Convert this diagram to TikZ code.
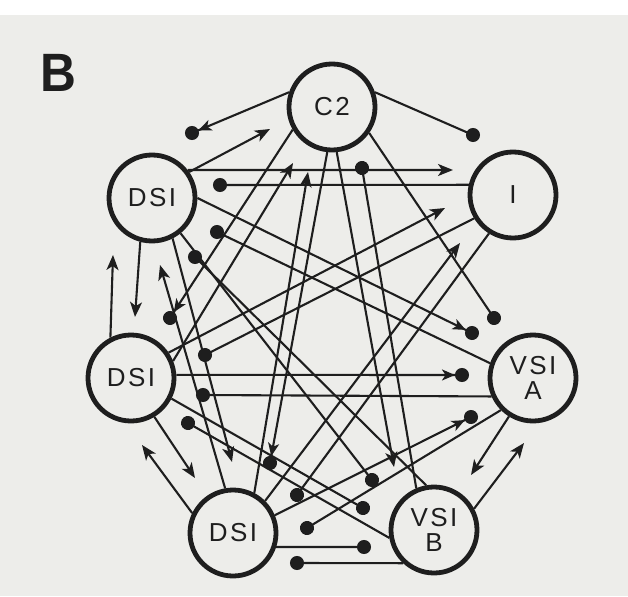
\documentclass[tikz,border=0pt]{standalone}
\usepackage{fontspec}
\setmainfont{Liberation Sans}
\newfontfamily\cellfont[LetterSpace=9]{Liberation Sans}
\usetikzlibrary{arrows.meta}

\definecolor{paper}{RGB}{237,237,234}
\definecolor{ink}{RGB}{30,30,30}

\tikzset{
  cell/.style={circle, draw=ink, line width=4.8pt, minimum size=86pt, inner sep=0pt,
               align=center, text=ink, font=\cellfont\fontsize{26}{25}\selectfont},
  link/.style={draw=ink, line width=2.1pt},
  exc/.style={link, -{Stealth[length=15pt,width=12pt,inset=4pt]}},
  inh/.style={link, shorten >=-7pt, -{Circle[length=14pt]}},
  mix/.style={link, shorten >=-7pt, -{Stealth[length=13pt,width=11pt,inset=3.5pt]Circle[length=14pt]}},
}

\begin{document}
\begin{tikzpicture}[x=1pt, y=-1pt]
  % page
  \useasboundingbox (0,0) rectangle (628,596);
  \fill[white] (0,0) rectangle (628,596);
  \fill[paper] (0,15) rectangle (628,596);

  % panel letter
  \node[text=ink, font=\fontsize{54}{54}\selectfont\bfseries, xscale=0.92] (panel) at (58,73) {B};

  % cells
  \node[cell] (c2) at (332,107) {C2};
  \node[cell] (d1) at (152,198) {DSI};
  \node[cell] (in) at (513,195) {I};
  \node[cell] (d2) at (131,378) {DSI};
  \node[cell] (va) at (533,378) {VSI\\A};
  \node[cell] (d3) at (233,533) {DSI};
  \node[cell] (vb) at (434,530) {VSI\\B};

  % synaptic endings
  \coordinate (k1) at (192,133);
  \coordinate (k2) at (473,135);
  \coordinate (k3) at (494,318);
  \coordinate (k4) at (170,318);
  \coordinate (k5) at (270,463);
  \coordinate (k6) at (394,467);
  \coordinate (k7) at (270,129);
  \coordinate (k8) at (453,170);
  \coordinate (k9) at (472,333);
  \coordinate (k10) at (372,480);
  \coordinate (k11) at (135,317);
  \coordinate (k12) at (232,462);
  \coordinate (k13) at (113,255);
  \coordinate (k14) at (293,163);
  \coordinate (k15) at (445,208);
  \coordinate (k16) at (462,375);
  \coordinate (k17) at (363,508);
  \coordinate (k18) at (195,478);
  \coordinate (k19) at (160,265);
  \coordinate (k20) at (142,445);
  \coordinate (k21) at (308,172);
  \coordinate (k22) at (460,243);
  \coordinate (k23) at (471,417);
  \coordinate (k24) at (364,547);
  \coordinate (k25) at (220,185);
  \coordinate (k26) at (205,355);
  \coordinate (k27) at (297,495);
  \coordinate (k28) at (217,232);
  \coordinate (k29) at (203,395);
  \coordinate (k30) at (307,528);
  \coordinate (k31) at (471,475);
  \coordinate (k32) at (362,168);
  \coordinate (k33) at (195,257);
  \coordinate (k34) at (188,423);
  \coordinate (k35) at (297,563);
  \coordinate (k36) at (524,443);

  % C2 outputs
  \draw[mix] (c2.161) -- (k1);
  \draw[inh] (c2.19) -- (k2);
  \draw[inh] (c2.-35) -- (k3);
  \draw[mix] (c2.-150) -- (k4);
  \draw[mix] (c2.-96) -- (k5);
  \draw[exc] (c2.-84) -- (k6);

  % upper DSI outputs
  \draw[exc] (d1.35) -- (k7);
  \draw[exc] (d1.38.5) -- (k8);
  \draw[mix] (d1.0) -- (k9);
  \draw[inh] (d1.-51) -- (k10);
  \draw[exc] (d1.-105) -- (k11);
  \draw[exc] (d1.-63) -- (k12);

  % middle DSI outputs
  \draw[exc] (d2.117) -- (k13);
  \draw[exc] (d2.22) -- (k14);
  \draw[exc] (d2.34) -- (k15);
  \draw[mix] (d2.4) -- (k16);
  \draw[inh] (d2.-27) -- (k17);
  \draw[exc] (d2.-59) -- (k18);

  % lower DSI outputs
  \draw[exc] (d3.100) -- (k19);
  \draw[exc] (d3.154) -- (k20);
  \draw[exc] (d3.62) -- (k21);
  \draw[exc] (d3.45) -- (k22);
  \draw[mix] (d3.23) -- (k23);
  \draw[inh] (d3.-18) -- (k24);

  % I outputs
  \draw[inh] (in.167.5) -- (k25);
  \draw[inh] (in.-149) -- (k26);
  \draw[inh] (in.-122) -- (k27);

  % VSI A outputs
  \draw[inh] (va.161) -- (k28);
  \draw[inh] (va.-156.4) -- (k29);
  \draw[inh] (va.-135) -- (k30);
  \draw[exc] (va.-122) -- (k31);

  % VSI B outputs
  \draw[inh] (vb.113) -- (k32);
  \draw[inh] (vb.100) -- (k33);
  \draw[inh] (vb.-170) -- (k34);
  \draw[inh] (vb.-133) -- (k35);
  \draw[exc] (vb.28) -- (k36);
\end{tikzpicture}
\end{document}
